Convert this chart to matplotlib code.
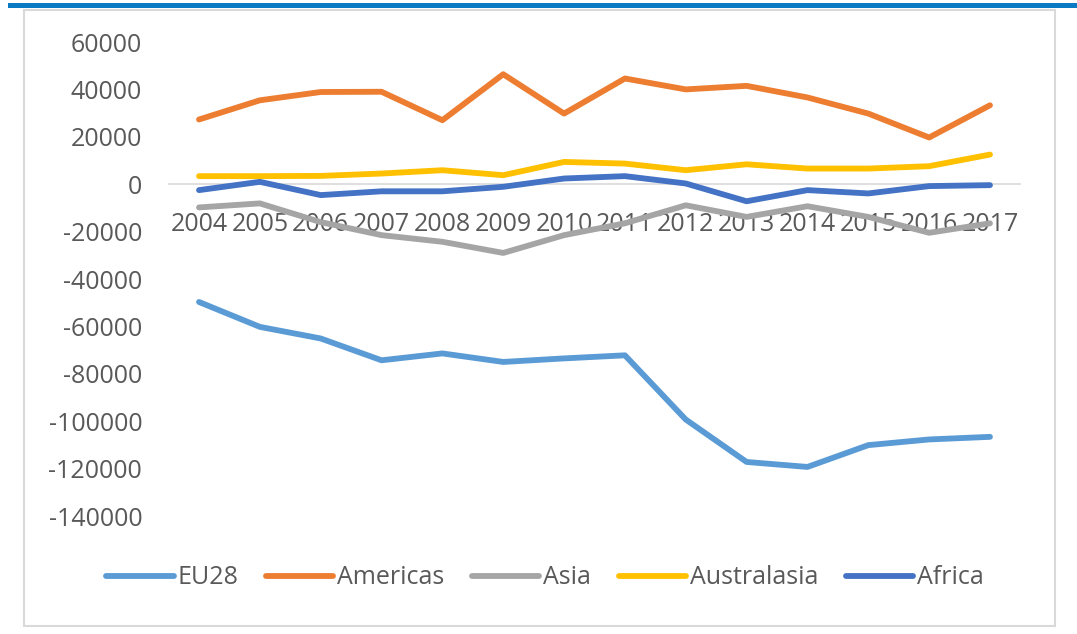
import matplotlib
matplotlib.use("Agg")
import matplotlib.pyplot as plt
from matplotlib.patches import Rectangle

years = [str(y) for y in range(2004, 2018)]
eu28 = [-49700, -60200, -65100, -74300, -71400, -75000, -73500, -72200, -99300, -117200, -119300, -110100, -107700, -106600]
americas = [27300, 35400, 38900, 39000, 27000, 46400, 29800, 44600, 40000, 41500, 36600, 29800, 19700, 33300]
asia = [-9800, -8100, -16000, -21500, -24300, -29000, -21500, -16500, -8900, -13800, -9300, -13800, -20500, -16500]
australasia = [3400, 3400, 3500, 4500, 5900, 3800, 9400, 8700, 5900, 8400, 6600, 6600, 7600, 12500]
africa = [-2500, 1000, -4600, -3000, -3000, -1100, 2400, 3400, 300, -7200, -2500, -3900, -800, -400]

series = [("EU28", eu28, "#5B9BD5"), ("Americas", americas, "#ED7D31"),
          ("Asia", asia, "#A5A5A5"), ("Australasia", australasia, "#FFC000"),
          ("Africa", africa, "#4472C4")]
yticks = list(range(-140000, 60001, 20000))

plt.rcParams['font.family'] = ['Open Sans', 'DejaVu Sans']
W, H = 1077, 634
fig = plt.figure(figsize=(W / 100, H / 100), dpi=100)

# outer frame and top bar
fig.patches.append(Rectangle((24 / W, 1 - 626 / H), (1055 - 24) / W, (626 - 10) / H,
                             transform=fig.transFigure, facecolor="white",
                             edgecolor="#D9D9D9", linewidth=1.5, zorder=0))
fig.patches.append(Rectangle((8 / W, 1 - 8 / H), 1 - 8 / W, 5 / H,
                             transform=fig.transFigure, facecolor="#0A7BC2",
                             edgecolor="none", zorder=0))

ax = fig.add_axes([168.6 / W, 1 - 516 / H, (1020.4 - 168.6) / W, (516 - 42) / H])
ax.set_zorder(2)
ax.patch.set_alpha(0)
x = list(range(len(years)))
for name, vals, col in series:
    ax.plot(x, vals, color=col, linewidth=4.2, label=name, solid_capstyle="round",
            solid_joinstyle="round")

ax.set_xlim(-0.5, len(years) - 0.5)
ax.set_ylim(-140000, 60000)
ax.set_yticks(yticks)
ax.set_yticklabels([str(v) for v in yticks])
ax.set_xticks(x)
ax.set_xticklabels(years)
for s in ["top", "right", "left"]:
    ax.spines[s].set_visible(False)
ax.spines["bottom"].set_position(("data", 0))
ax.spines["bottom"].set_color("#D9D9D9")
ax.spines["bottom"].set_linewidth(1.2)
ax.spines["bottom"].set_zorder(0.5)
ax.tick_params(axis="y", length=0, pad=19, labelsize=18, labelcolor="#595959")
ax.tick_params(axis="x", length=0, pad=20, labelsize=18, labelcolor="#595959")

leg = fig.legend(loc="center", bbox_to_anchor=(545 / W, 1 - 578 / H), ncol=5, frameon=False,
                 fontsize=18, labelcolor="#595959", handlelength=2.7, handletextpad=0.15,
                 columnspacing=1.1)
leg.set_zorder(3)

fig.savefig("out.png", dpi=100)
